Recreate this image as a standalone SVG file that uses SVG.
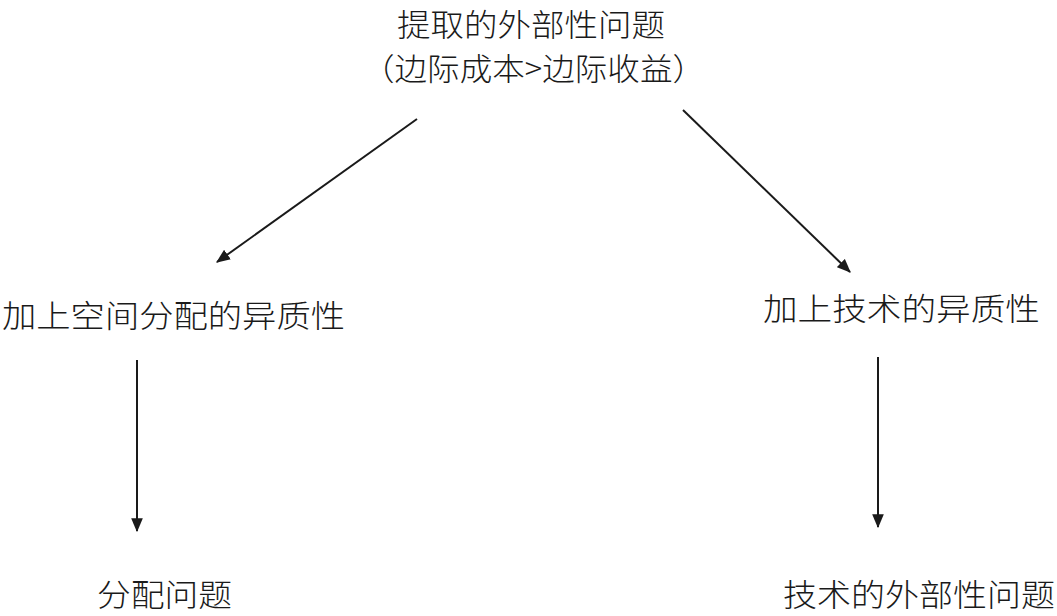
<svg xmlns="http://www.w3.org/2000/svg" width="1057" height="616" viewBox="0 0 1057 616">
<style>
text{font-family:"Noto Sans CJK SC","Noto Sans",sans-serif;font-size:31px;fill:#1a1a1a;font-weight:300}
.c{stroke:#1a1a1a;stroke-width:2;fill:none}
</style>
<defs>
<marker id="a" viewBox="0 0 12 10" refX="11" refY="5" markerWidth="14" markerHeight="12" orient="auto" markerUnits="userSpaceOnUse">
<path d="M0,0 L12,5 L0,10 z" fill="#1a1a1a"/>
</marker>
</defs>
<g id="top">
<text x="397" y="36" textLength="268" lengthAdjust="spacingAndGlyphs">提取的外部性问题</text>
<text x="362" y="80" textLength="343" lengthAdjust="spacingAndGlyphs">（边际成本&gt;边际收益）</text>
</g>
<g id="left-mid">
<text x="2" y="327" textLength="343" lengthAdjust="spacingAndGlyphs">加上空间分配的异质性</text>
</g>
<g id="right-mid">
<text x="763" y="320" textLength="277" lengthAdjust="spacingAndGlyphs">加上技术的异质性</text>
</g>
<g id="left-bottom">
<text x="97" y="606" textLength="135" lengthAdjust="spacingAndGlyphs">分配问题</text>
</g>
<g id="right-bottom">
<text x="783" y="606" textLength="272" lengthAdjust="spacingAndGlyphs">技术的外部性问题</text>
</g>
<g id="connectors">
<line class="c" x1="417" y1="119" x2="217" y2="262" marker-end="url(#a)"/>
<line class="c" x1="683" y1="110" x2="850" y2="272" marker-end="url(#a)"/>
<line class="c" x1="137" y1="360" x2="137" y2="531" marker-end="url(#a)"/>
<line class="c" x1="878" y1="357" x2="878" y2="527" marker-end="url(#a)"/>
</g>
</svg>
